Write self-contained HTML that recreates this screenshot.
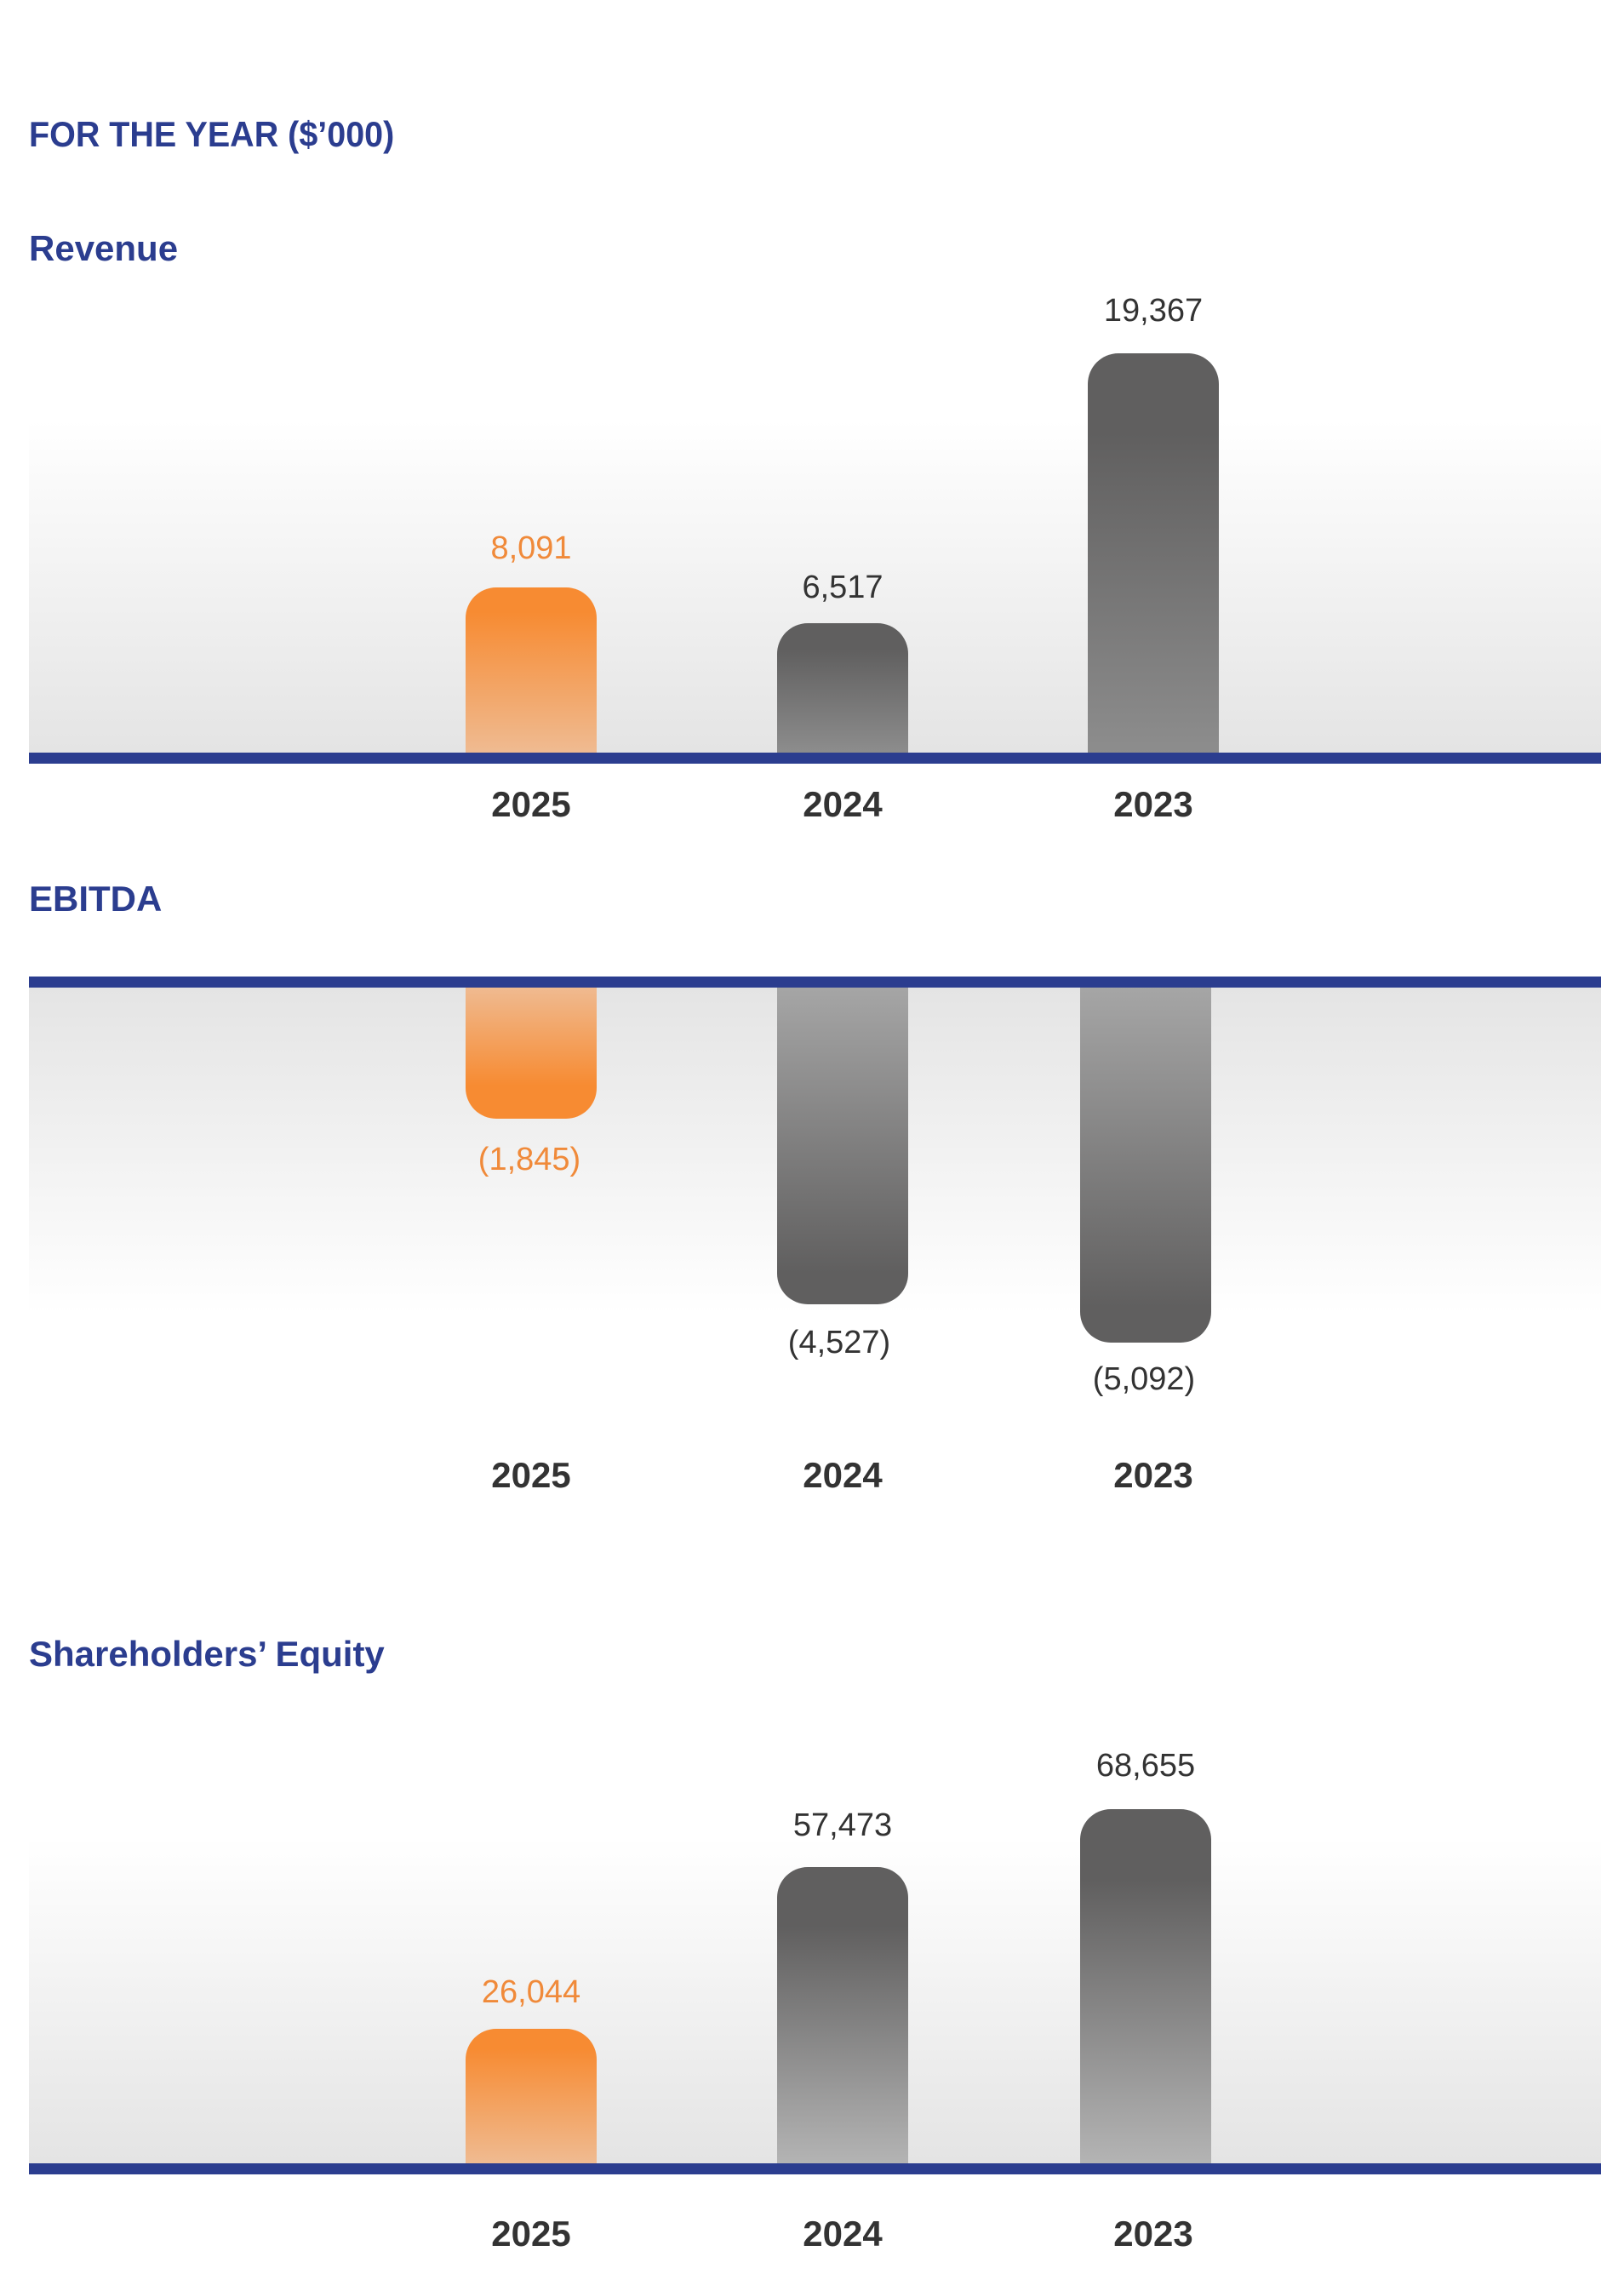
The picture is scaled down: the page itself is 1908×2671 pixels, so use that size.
<!DOCTYPE html>
<html><head><meta charset="utf-8"><style>
html,body{margin:0;padding:0;background:#fff;}
body{width:1908px;height:2671px;position:relative;overflow:hidden;font-family:"Liberation Sans",sans-serif;}
.h{position:absolute;left:34px;font-weight:bold;color:#2b3d8f;font-size:42px;line-height:42px;white-space:nowrap;transform-origin:left top;}
.line{position:absolute;left:34px;width:1847px;height:13px;background:#2b3d8f;}
.bgup{position:absolute;left:34px;width:1847px;background:linear-gradient(to bottom,#ffffff,#e4e4e4);}
.bgdn{position:absolute;left:34px;width:1847px;background:linear-gradient(to bottom,#e4e4e4,#ffffff);}
.bar{position:absolute;width:154px;}
.up{border-radius:36px 36px 0 0;}
.dn{border-radius:0 0 36px 36px;}
.ou{background:linear-gradient(to bottom,#f78b32 0%,#f78b32 15%,#efbb92 100%);}
.od{background:linear-gradient(to top,#f78b32 0%,#f78b32 25%,#efbb92 100%);}
.gu{background:linear-gradient(to bottom,#605f5f 0%,#605f5f 20%,#8d8d8d 100%);}
.gu2{background:linear-gradient(to bottom,#605f5f 0%,#605f5f 20%,#b4b4b4 100%);}
.gd{background:linear-gradient(to top,#605f5f 0%,#605f5f 10%,#a6a6a6 100%);}
.v{position:absolute;width:300px;margin-left:-150px;text-align:center;font-size:38px;line-height:38px;color:#333;white-space:nowrap;}
.v.o{color:#f08a3a;}
.y{position:absolute;width:300px;margin-left:-150px;text-align:center;font-size:42px;line-height:42px;font-weight:bold;color:#333;}
</style></head><body>

<div class="h" style="top:137px;transform:scaleX(0.94)">FOR THE YEAR ($’000)</div>
<div class="h" style="top:271px">Revenue</div>

<!-- Revenue -->
<div class="bgup" style="top:494px;height:390px"></div>
<div class="bar up ou" style="left:547px;top:690px;height:195px"></div>
<div class="bar up gu" style="left:913px;top:732px;height:153px"></div>
<div class="bar up gu" style="left:1278px;top:415px;height:470px"></div>
<div class="line" style="top:884px"></div>
<div class="v o" style="left:624px;top:625px">8,091</div>
<div class="v" style="left:990px;top:671px">6,517</div>
<div class="v" style="left:1355px;top:346px">19,367</div>
<div class="y" style="left:624px;top:924px">2025</div>
<div class="y" style="left:990px;top:924px">2024</div>
<div class="y" style="left:1355px;top:924px">2023</div>

<!-- EBITDA -->
<div class="h" style="top:1035px">EBITDA</div>
<div class="bgdn" style="top:1158px;height:385px"></div>
<div class="bar dn od" style="left:547px;top:1158px;height:156px"></div>
<div class="bar dn gd" style="left:913px;top:1158px;height:374px"></div>
<div class="bar dn gd" style="left:1269px;top:1158px;height:419px"></div>
<div class="line" style="top:1147px"></div>
<div class="v o" style="left:622px;top:1343px">(1,845)</div>
<div class="v" style="left:986px;top:1558px">(4,527)</div>
<div class="v" style="left:1344px;top:1601px">(5,092)</div>
<div class="y" style="left:624px;top:1712px">2025</div>
<div class="y" style="left:990px;top:1712px">2024</div>
<div class="y" style="left:1355px;top:1712px">2023</div>

<!-- Equity -->
<div class="h" style="top:1922px">Shareholders’ Equity</div>
<div class="bgup" style="top:2158px;height:384px"></div>
<div class="bar up ou" style="left:547px;top:2383px;height:159px"></div>
<div class="bar up gu2" style="left:913px;top:2193px;height:349px"></div>
<div class="bar up gu2" style="left:1269px;top:2125px;height:417px"></div>
<div class="line" style="top:2541px"></div>
<div class="v o" style="left:624px;top:2321px">26,044</div>
<div class="v" style="left:990px;top:2125px">57,473</div>
<div class="v" style="left:1346px;top:2055px">68,655</div>
<div class="y" style="left:624px;top:2603px">2025</div>
<div class="y" style="left:990px;top:2603px">2024</div>
<div class="y" style="left:1355px;top:2603px">2023</div>

</body></html>
